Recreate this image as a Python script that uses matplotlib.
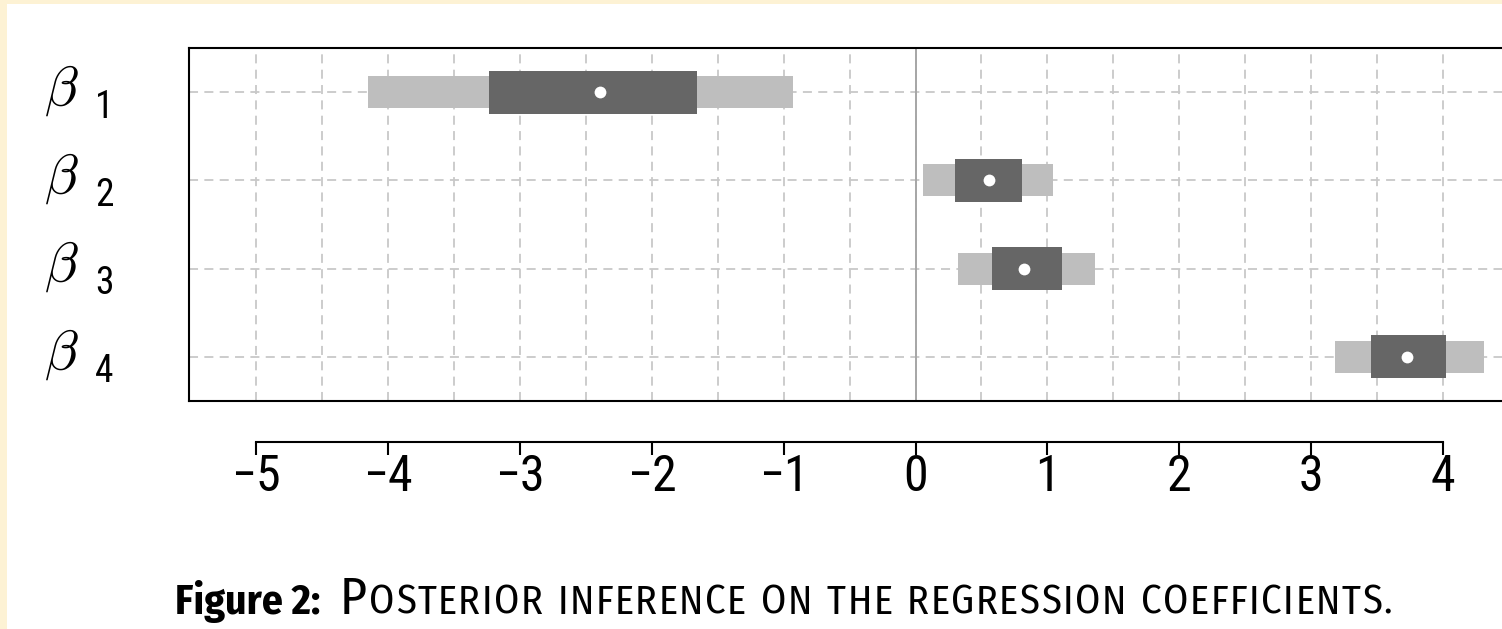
import matplotlib
matplotlib.use("Agg")
import matplotlib.pyplot as plt
from matplotlib import font_manager
from matplotlib.patches import Rectangle
from matplotlib.transforms import blended_transform_factory

# posterior summaries
coef_idx = ["1", "2", "3", "4"]
median = [-2.39, 0.56, 0.82, 3.73]
inner_lo = [-3.23, 0.30, 0.58, 3.45]
inner_hi = [-1.66, 0.81, 1.11, 4.02]
outer_lo = [-4.15, 0.06, 0.32, 3.18]
outer_hi = [-0.93, 1.04, 1.36, 4.31]
xticks = [-5, -4, -3, -2, -1, 0, 1, 2, 3, 4]

W, H = 1502, 629


def pick_font(cands):
    names = {f.name for f in font_manager.fontManager.ttflist}
    for c in cands:
        if c in names:
            return c
    return "DejaVu Sans"


NARROW = pick_font(["Liberation Sans Narrow", "Roboto Condensed", "Open Sans Condensed",
                    "Liberation Sans"])
CAPTION = pick_font(["Fira Sans Condensed", "Roboto Condensed", "Liberation Sans Narrow",
                     "Roboto"])
SMALLCAPS = pick_font(["Fira Sans Condensed", "Roboto Condensed", "Roboto"])

plt.rcParams["mathtext.fontset"] = "cm"

fig = plt.figure(figsize=(W / 100, H / 100), dpi=100)


def fx(px):
    return px / W


def fy(py):
    return 1 - py / H


# main panel
ax = fig.add_axes([fx(189), fy(401), fx(1520) - fx(189), fy(48) - fy(401)])
ax.set_xlim(-5.508, 4.583)
ax.set_ylim(0.5, 4.5)
ypos = [4 - i for i in range(len(coef_idx))]

grid_kw = dict(color="#c8c8c8", lw=1.3, ls=(0, (5, 3.5)), zorder=0)
for i in range(19):
    ax.axvline(-5 + 0.5 * i, **grid_kw)
for y in ypos:
    ax.axhline(y, **grid_kw)
ax.axvline(0, color="#a6a6a6", lw=1.4, zorder=1)

ax.barh(ypos, [h - l for l, h in zip(outer_lo, outer_hi)], left=outer_lo,
        height=0.36, color="#bebebe", zorder=2)
ax.barh(ypos, [h - l for l, h in zip(inner_lo, inner_hi)], left=inner_lo,
        height=0.49, color="#666666", zorder=3)
ax.plot(median, ypos, "o", ms=8.5, mfc="white", mec="none", zorder=4)

ax.set_xticks([])
ax.set_yticks([])
for s in ax.spines.values():
    s.set_linewidth(1.5)
    s.set_color("black")

# beta labels on the left
tr = blended_transform_factory(fig.transFigure, ax.transData)
for y, k in zip(ypos, coef_idx):
    ax.text(fx(44), y + 0.02, r"$\beta$", transform=tr, fontsize=40, ha="left",
            va="center", clip_on=False)
    ax.text(fx(95), y - 0.17, k, transform=tr, fontsize=27, ha="left",
            va="center", family=NARROW, clip_on=False)

# detached bottom axis (R style)
axb = fig.add_axes([fx(189), fy(442), fx(1520) - fx(189), 0.001])
axb.set_xlim(ax.get_xlim())
axb.patch.set_visible(False)
axb.set_yticks([])
for side in ["top", "left", "right"]:
    axb.spines[side].set_visible(False)
axb.spines["bottom"].set_bounds(xticks[0], xticks[-1])
axb.spines["bottom"].set_linewidth(1.5)
axb.set_xticks(xticks)
axb.set_xticklabels([str(t).replace("-", "\u2212") for t in xticks])
axb.tick_params(axis="x", direction="out", length=9, width=1.5, pad=-1,
                labelsize=36)
for lab in axb.get_xticklabels():
    lab.set_family(NARROW)

# caption: bold label, then fake small caps fitted to the measured width
fig.canvas.draw()
renderer = fig.canvas.get_renderer()
base = fy(614)
fig.text(fx(175), base, "Figure 2:", fontsize=30, fontweight="bold",
         family=CAPTION, ha="left", va="baseline")
text = "OSTERIOR INFERENCE ON THE REGRESSION COEFFICIENTS."
chars = [("P", 1.28)] + [(c, 1.0) for c in text]
start, end, gap = 340, 1392, 1.5


def char_widths(size):
    out = []
    for c, rel in chars:
        probe = fig.text(0, 0, c if c != " " else "n", fontsize=size * rel,
                         family=SMALLCAPS)
        w = probe.get_window_extent(renderer).width
        probe.remove()
        out.append(w * 0.55 if c == " " else w)
    return out


size = 24.0
widths = char_widths(size)
size *= (end - start - gap * (len(chars) - 1)) / sum(widths)
widths = char_widths(size)
gap = (end - start - sum(widths)) / (len(chars) - 1)
x = start
for (c, rel), w in zip(chars, widths):
    if c != " ":
        fig.text(fx(x), base, c, fontsize=size * rel, family=SMALLCAPS,
                 ha="left", va="baseline")
    x += w + gap

# yellow dotted page edge
fig.patches.append(Rectangle((0, 0), fx(7), 1, transform=fig.transFigure,
                             facecolor="#fdf2d4", edgecolor="none"))
fig.patches.append(Rectangle((0, fy(4)), 1, 1 - fy(4), transform=fig.transFigure,
                             facecolor="#fdf2d4", edgecolor="none"))

fig.savefig("out.png", dpi=100)
